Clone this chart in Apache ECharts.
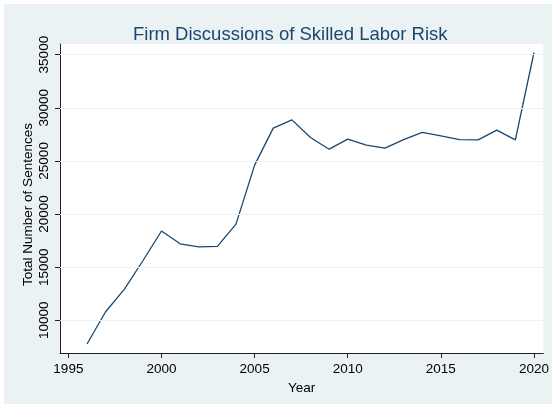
<!DOCTYPE html>
<html><head><meta charset="utf-8">
<script src="https://cdn.jsdelivr.net/npm/echarts@6/dist/echarts.min.js"></script>
<style>html,body{margin:0;padding:0;background:#fff}#c{width:552px;height:404px}</style>
</head><body><div id="c"></div>
<script>
const years = [1996,1997,1998,1999,2000,2001,2002,2003,2004,2005,2006,2007,2008,2009,2010,2011,2012,2013,2014,2015,2016,2017,2018,2019,2020];
const sentences = [7770,10800,12900,15600,18400,17200,16900,16950,19050,24600,28080,28860,27200,26100,27050,26490,26200,27000,27680,27350,27000,26980,27900,26980,35200];
const yTicks = [10000,15000,20000,25000,30000,35000];
const xTicks = [1995,2000,2005,2010,2015,2020];
const titleText = 'Firm Discussions of Skilled Labor Risk';
const xName = 'Year';
const yName = 'Total Number of Sentences';

const font = 'Liberation Sans, Arial, Helvetica, sans-serif';
const axisColor = '#222';
const chart = echarts.init(document.getElementById('c'), null, {renderer: 'canvas'});
chart.setOption({
  backgroundColor: '#ffffff',
  animation: false,
  graphic: [{type: 'rect', z: -100, silent: true, shape: {x: 4, y: 4, width: 548, height: 400}, style: {fill: '#eaf2f3'}}],
  title: {text: titleText, left: 128, top: 20, textStyle: {color: '#1a476f', fontFamily: font, fontWeight: 'normal', fontSize: 18.5}},
  grid: {left: 60, right: 7, top: 44, bottom: 51, show: true, backgroundColor: '#ffffff', borderWidth: 0},
  xAxis: {
    type: 'value', min: 1994.55, max: 2020.5,
    name: xName, nameLocation: 'middle', nameGap: 26,
    nameTextStyle: {color: '#000', fontFamily: font, fontSize: 13.5},
    axisLine: {show: true, lineStyle: {color: axisColor, width: 1}},
    axisTick: {show: true, length: 5, customValues: xTicks, lineStyle: {color: axisColor}},
    axisLabel: {customValues: xTicks, formatter: v => String(v), color: '#000', fontFamily: font, fontSize: 13.5, margin: 9},
    splitLine: {show: false}
  },
  yAxis: {
    type: 'value', min: 6920, max: 36000,
    name: yName, nameLocation: 'middle', nameGap: 25, nameRotate: 90, nameMoveOverlap: false,
    nameTextStyle: {color: '#000', fontFamily: font, fontSize: 13.5, padding: [0, 12, 0, 0]},
    axisLine: {show: true, lineStyle: {color: axisColor, width: 1}},
    axisTick: {show: true, length: 5, customValues: yTicks, lineStyle: {color: axisColor}},
    axisLabel: {customValues: yTicks, formatter: v => String(v), rotate: 90, color: '#000', fontFamily: font, fontSize: 13.5, margin: 9},
    splitLine: {show: false}
  },
  series: [{
    type: 'line', data: years.map((y, i) => [y, sentences[i]]),
    symbol: 'none', clip: false,
    lineStyle: {color: '#1a476f', width: 1.3},
    markLine: {silent: true, symbol: 'none', label: {show: false}, animation: false,
      lineStyle: {color: '#eaf2f3', width: 1.2, type: 'solid'},
      data: yTicks.map(v => ({yAxis: v}))},
    z: 3
  }]
});
</script></body></html>
